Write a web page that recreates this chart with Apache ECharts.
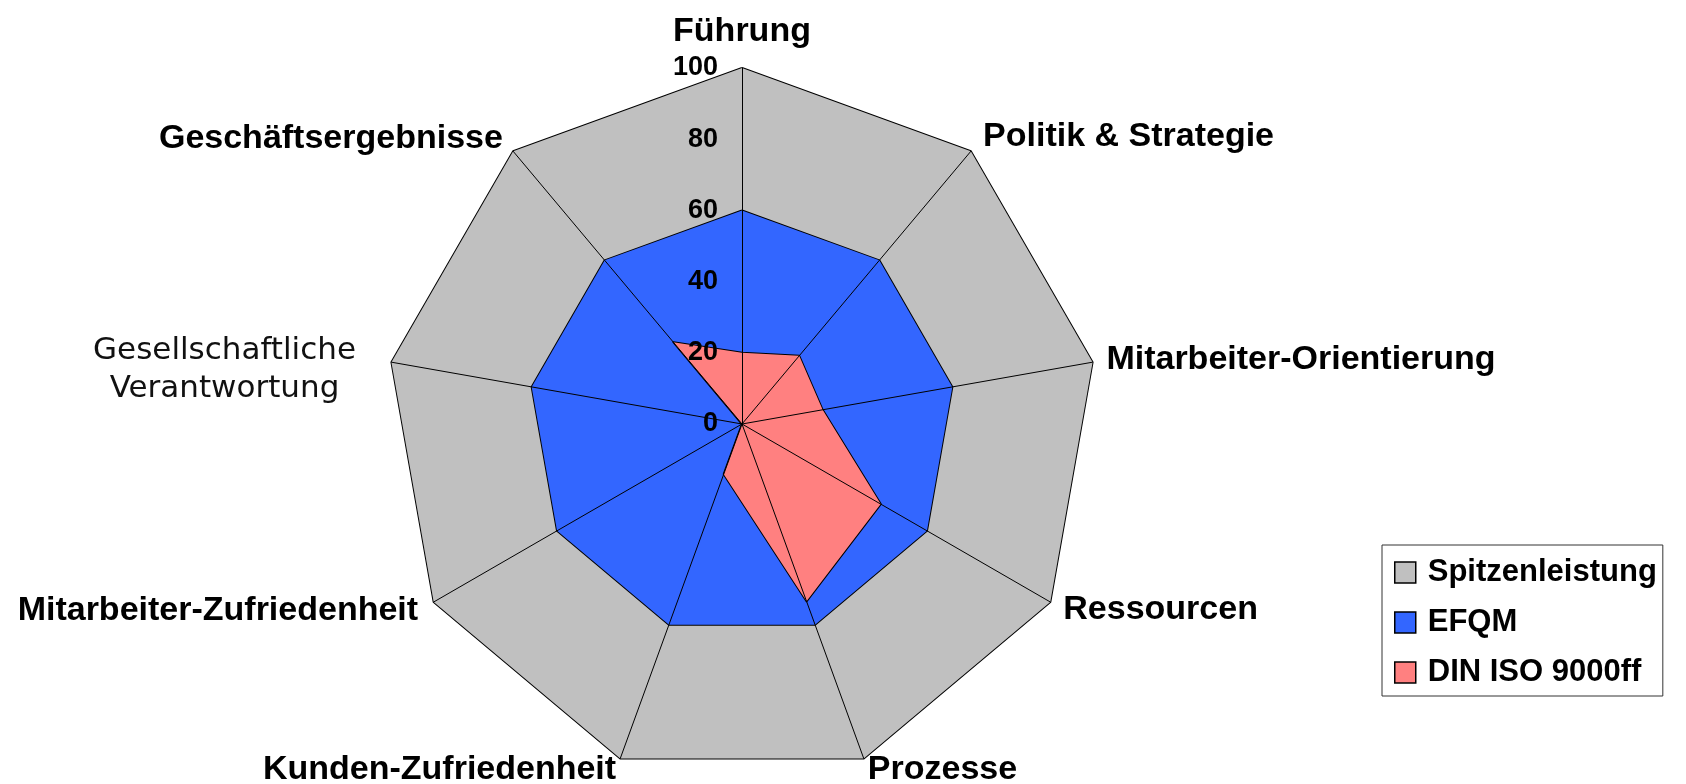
<!DOCTYPE html>
<html>
<head>
<meta charset="utf-8">
<script src="https://cdn.jsdelivr.net/npm/echarts@6/dist/echarts.min.js"></script>
<style>
  html, body { margin: 0; padding: 0; background: #fff; }
  #chart { width: 1686px; height: 784px; }
</style>
</head>
<body>
<div id="chart"></div>
<script>
// Kriterien, im Uhrzeigersinn ab oben
var categories = ['Führung', 'Politik & Strategie', 'Mitarbeiter-Orientierung', 'Ressourcen', 'Prozesse',
  'Kunden-Zufriedenheit', 'Mitarbeiter-Zufriedenheit', 'Gesellschaftliche\nVerantwortung', 'Geschäftsergebnisse'];
var seriesNames = ['Spitzenleistung', 'EFQM', 'DIN ISO 9000ff'];
var spitzenData = [100, 100, 100, 100, 100, 100, 100, 100, 100];
var efqmData = [60, 60, 60, 60, 60, 60, 60, 60, 60];
var dinData = [20, 25, 23, 45, 53, 15, 0, 0, 30];
var axisMin = 0;
var axisMax = 100;

// Layout: Abstand der Beschriftung zur Spitze je Achse (gleiche Reihenfolge wie categories)
var nameGaps = [19, 19, 14, 15, 12, 12, 18, 36, 16];
var colors = ['#C0C0C0', '#3366FF', '#FF8080'];

// ECharts zeichnet das Netz gegen den Uhrzeigersinn -> Reihenfolge umdrehen (Führung bleibt oben)
var order = [0];
for (var k = categories.length - 1; k > 0; k--) order.push(k);
function reorder(arr) { return order.map(function (i) { return arr[i]; }); }

var myChart = echarts.init(document.getElementById('chart'));

var indicators = order.map(function (i) {
  var ind = { name: categories[i], min: axisMin, max: axisMax, nameGap: nameGaps[i] };
  if (i === 0) {
    ind.axisLabel = {
      show: true,
      margin: 24,
      color: '#000',
      fontFamily: 'Liberation Sans, Arial',
      fontWeight: 'bold',
      fontSize: 27,
      showMinLabel: true,
      showMaxLabel: true
    };
  } else {
    ind.axisLabel = { show: false };
  }
  // zweizeilige Beschriftung etwas tiefer setzen
  if (categories[i].indexOf('\n') >= 0) {
    ind.nameTextStyle = { padding: [28, 0, 0, 0] };
  }
  return ind;
});

function radarSeries(name, data, color) {
  return {
    name: name,
    type: 'radar',
    symbol: 'none',
    silent: true,
    itemStyle: { color: color },
    lineStyle: { color: '#000', width: 2 },
    areaStyle: { color: color, opacity: 1 },
    data: [{ name: name, value: reorder(data) }]
  };
}

var chartOption = {
  animation: false,
  backgroundColor: '#fff',
  legend: {
    orient: 'vertical',
    left: 1382,
    top: 545,
    icon: 'rect',
    itemWidth: 21,
    itemHeight: 21,
    itemGap: 19,
    padding: [12, 6, 8, 12],
    borderColor: '#333',
    borderWidth: 1,
    itemStyle: { borderColor: '#000', borderWidth: 1.5 },
    textStyle: {
      color: '#000',
      fontFamily: 'Liberation Sans, Arial',
      fontWeight: 'bold',
      fontSize: 31,
      padding: [0, 0, 0, 7]
    },
    data: seriesNames
  },
  radar: {
    center: [742, 424],
    radius: 356,
    startAngle: 90,
    shape: 'polygon',
    splitNumber: 5,
    z: 3,
    axisName: {
      color: '#000',
      fontFamily: 'Liberation Sans, Arial',
      fontWeight: 'bold',
      fontSize: 34,
      formatter: function (value) {
        if (value.indexOf('\n') < 0) return value;
        return value.split('\n').map(function (s) { return '{g|' + s + '}'; }).join('\n');
      },
      rich: {
        g: {
          fontFamily: 'DejaVu Sans',
          fontWeight: 'normal',
          fontSize: 31,
          color: '#111',
          align: 'center',
          lineHeight: 38
        }
      }
    },
    axisLine: { lineStyle: { color: '#000', width: 1 } },
    axisTick: { show: false },
    axisLabel: { show: false },
    splitLine: { show: false },
    splitArea: { show: false },
    indicator: indicators
  },
  series: [
    radarSeries(seriesNames[0], spitzenData, colors[0]),
    radarSeries(seriesNames[1], efqmData, colors[1]),
    radarSeries(seriesNames[2], dinData, colors[2])
  ]
};

myChart.setOption(chartOption);
</script>
</body>
</html>
